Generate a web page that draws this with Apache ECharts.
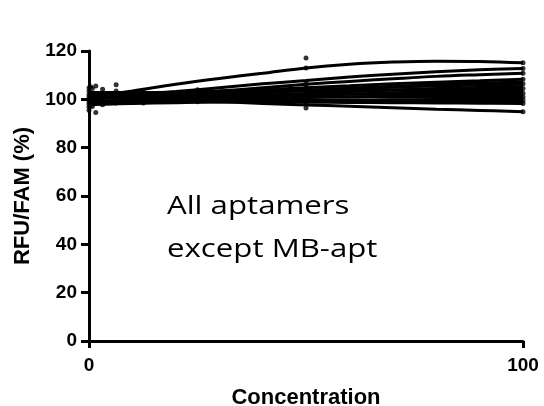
<!DOCTYPE html>
<html>
<head>
<meta charset="utf-8">
<script src="https://cdn.jsdelivr.net/npm/echarts@6/dist/echarts.min.js"></script>
<style>
  html, body { margin: 0; padding: 0; background: #fff; }
  #chart { width: 544px; height: 406px; }
</style>
</head>
<body>
<div id="chart"></div>
<script>
const curveX = [0, 10, 20, 30, 40, 50, 60, 70, 80, 90, 100];

// fitted curves, one per aptamer (RFU/FAM %)
const curveA = [101.0, 103.5, 106.2, 108.6, 110.8, 113.0, 114.5, 115.4, 115.8, 115.7, 115.1];
const curveB = [100.5, 101.8, 103.2, 104.8, 106.4, 107.8, 109.2, 110.4, 111.4, 112.2, 112.8];
const curveC = [100.0, 101.0, 102.2, 103.4, 104.8, 106.2, 107.4, 108.5, 109.5, 110.2, 110.8];
const curveD = [102.5, 102.6, 102.9, 103.4, 104.0, 104.8, 105.6, 106.4, 107.1, 107.7, 108.3];
const curveE = [99.0, 99.8, 100.7, 101.7, 102.7, 103.7, 104.6, 105.4, 106.1, 106.7, 107.2];
const curveF = [101.8, 102.0, 102.3, 102.7, 103.2, 103.8, 104.4, 105.0, 105.5, 105.9, 106.2];
const curveG = [98.2, 98.9, 99.7, 100.6, 101.5, 102.4, 103.2, 103.9, 104.5, 104.9, 105.2];
const curveH = [102.8, 102.8, 102.9, 103.0, 103.2, 103.4, 103.6, 103.9, 104.1, 104.2, 104.3];
const curveI = [97.8, 98.5, 99.3, 100.1, 100.9, 101.6, 102.2, 102.7, 103.1, 103.3, 103.4];
const curveJ = [101.2, 101.3, 101.5, 101.7, 101.9, 102.1, 102.2, 102.3, 102.4, 102.5, 102.5];
const curveK = [98.8, 99.2, 99.6, 100.0, 100.4, 100.8, 101.1, 101.3, 101.5, 101.6, 101.6];
const curveL = [102.2, 102.0, 101.8, 101.6, 101.4, 101.2, 101.0, 100.9, 100.8, 100.7, 100.7];
const curveM = [98.0, 98.3, 98.6, 98.9, 99.2, 99.4, 99.6, 99.7, 99.8, 99.8, 99.8];
const curveN = [100.8, 100.6, 100.4, 100.2, 100.0, 99.8, 99.6, 99.4, 99.2, 99.1, 99.0];
const curveO = [99.3, 99.2, 99.1, 99.0, 98.9, 98.8, 98.7, 98.6, 98.5, 98.4, 98.3];
const curveP = [101.0, 100.3, 99.6, 99.0, 98.3, 97.7, 97.1, 96.5, 95.9, 95.4, 94.9];

// measured points: [concentration, RFU/FAM %]
const measured = [
  [0, 104.8], [0, 103.5], [0, 102], [0, 101], [0, 100], [0, 99], [0, 98], [0, 96.8], [0, 95.5],
  [0.39, 105.2], [0.39, 102.5], [0.39, 100.5], [0.39, 99.5], [0.39, 97.5],
  [0.78, 104.5], [0.78, 101.5], [0.78, 99], [0.78, 97],
  [1.56, 105.5], [1.56, 101], [1.56, 99], [1.56, 94.6],
  [3.13, 104.2], [3.13, 102.5], [3.13, 99.5], [3.13, 97.8],
  [6.25, 106], [6.25, 103.5], [6.25, 101], [6.25, 98.5],
  [12.5, 103.5], [12.5, 101.5], [12.5, 100], [12.5, 98.5],
  [25, 104], [25, 102], [25, 100], [25, 99],
  [50, 117.1], [50, 113], [50, 107.2], [50, 106], [50, 104.5], [50, 103], [50, 101.5], [50, 100], [50, 98.5], [50, 96.4],
  [100, 115.1], [100, 112.8], [100, 110.8], [100, 108.3], [100, 106.5], [100, 104.5], [100, 102.5], [100, 101], [100, 99.5], [100, 98.3], [100, 94.9]
];

const xTicks = [0, 100];
const yTicks = [0, 20, 40, 60, 80, 100, 120];
const noteLines = ['All aptamers', 'except MB-apt'];

const curves = [curveA, curveB, curveC, curveD, curveE, curveF, curveG, curveH,
  curveI, curveJ, curveK, curveL, curveM, curveN, curveO, curveP];

const axisFont = { fontFamily: 'Liberation Sans', fontWeight: 'bold', color: '#000' };

const chart = echarts.init(document.getElementById('chart'));

const series = curves.map((vals) => ({
  type: 'line',
  data: curveX.map((x, i) => [x, vals[i]]),
  smooth: 0.4,
  showSymbol: false,
  lineStyle: { color: '#000', width: 3 },
  silent: true
}));
series.push({
  type: 'scatter',
  data: measured,
  symbolSize: 5,
  itemStyle: { color: '#000' },
  silent: true
});

chart.setOption({
  animation: false,
  grid: { left: 89, right: 21, top: 51, bottom: 65, containLabel: false, outerBoundsMode: 'none' },
  xAxis: {
    type: 'value',
    min: xTicks[0],
    max: xTicks[xTicks.length - 1],
    interval: xTicks[1] - xTicks[0],
    name: 'Concentration',
    nameLocation: 'middle',
    nameGap: 46,
    nameTextStyle: Object.assign({ fontSize: 22 }, axisFont),
    axisLine: { lineStyle: { color: '#000', width: 3 } },
    axisTick: { length: 7, lineStyle: { color: '#000', width: 3 } },
    axisLabel: Object.assign({ fontSize: 19, margin: 15 }, axisFont),
    splitLine: { show: false }
  },
  yAxis: {
    type: 'value',
    min: yTicks[0],
    max: yTicks[yTicks.length - 1],
    interval: yTicks[1] - yTicks[0],
    name: 'RFU/FAM (%)',
    nameLocation: 'middle',
    nameGap: 54,
    nameTextStyle: Object.assign({ fontSize: 22 }, axisFont),
    axisLine: { show: true, lineStyle: { color: '#000', width: 3 } },
    axisTick: { show: true, length: 8, lineStyle: { color: '#000', width: 3 } },
    axisLabel: Object.assign({ fontSize: 19, margin: 12 }, axisFont),
    splitLine: { show: false }
  },
  graphic: noteLines.map((t, i) => ({
    type: 'text',
    left: 167,
    top: 194 + i * 43,
    scaleX: 1.2,
    style: { text: t, font: '26px "Open Sans"', fill: '#000' },
    silent: true
  })),
  series
});
</script>
</body>
</html>
